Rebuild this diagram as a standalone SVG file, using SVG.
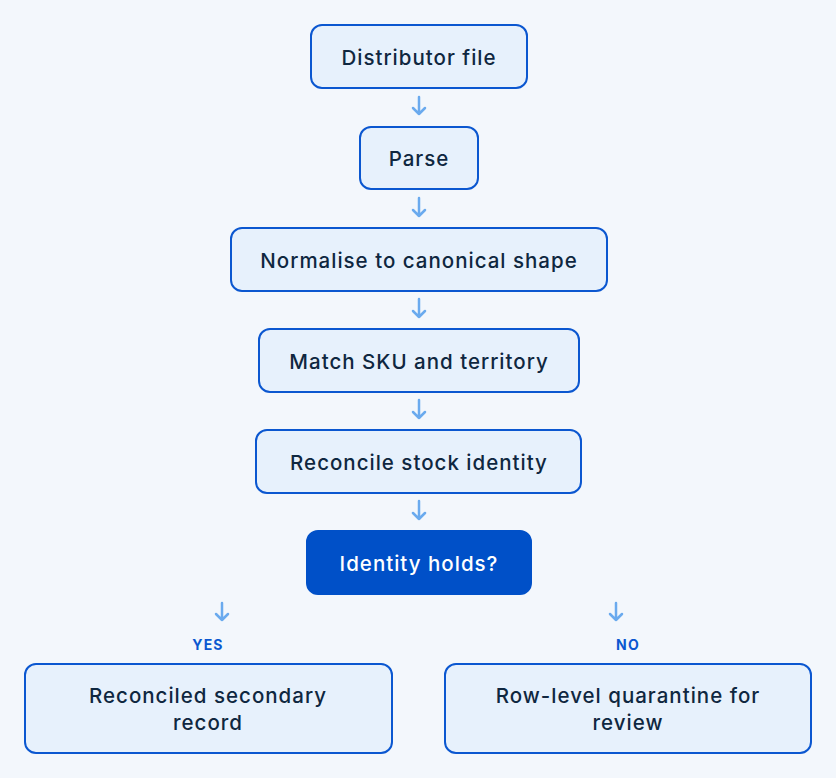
<svg xmlns="http://www.w3.org/2000/svg" width="836" height="778" viewBox="0 0 836 778">
<defs>
<style>
.bg{fill:#f3f7fc}
.n rect{fill:#e7f1fc;stroke:#0b57d0;stroke-width:2}
.n text{font-family:Inter,"Noto Sans",sans-serif;font-size:20.5px;font-weight:500;letter-spacing:1px;fill:#0f2740;text-anchor:middle;dominant-baseline:central}
.d rect{fill:#0050c8;stroke:#0050c8;stroke-width:2}
.d text{font-family:Inter,"Noto Sans",sans-serif;font-size:20.5px;letter-spacing:1px;font-weight:500;fill:#ffffff;text-anchor:middle;dominant-baseline:central}
.c path{fill:none;stroke:#6aaaee;stroke-width:2.5;stroke-linecap:round;stroke-linejoin:round}
.lbl{font-family:Inter,"Noto Sans",sans-serif;font-size:14px;font-weight:700;fill:#0b57d0;text-anchor:middle;letter-spacing:1.2px}
</style>
</defs>
<rect class="bg" x="0" y="0" width="836" height="778"/>
<g id="connectors" class="c">
<path d="M419 97V114M413 108L419 114L425 108"/>
<path d="M419 198V216M413 210L419 216L425 210"/>
<path d="M419 299V317M413 311L419 317L425 311"/>
<path d="M419 400V418M413 412L419 418L425 412"/>
<path d="M419 501V519M413 513L419 519L425 513"/>
<path d="M222 603V620M216 614L222 620L228 614"/>
<path d="M616 603V620M610 614L616 620L622 614"/>
</g>
<text class="lbl" x="208" y="650">YES</text>
<text class="lbl" x="628" y="650">NO</text>
<g id="n1" class="n"><rect x="311" y="25" width="216" height="63" rx="11"/><text x="419" y="57">Distributor file</text></g>
<g id="n2" class="n"><rect x="360" y="127" width="118" height="62" rx="11"/><text x="419" y="158">Parse</text></g>
<g id="n3" class="n"><rect x="231" y="228" width="376" height="63" rx="11"/><text x="419" y="260">Normalise to canonical shape</text></g>
<g id="n4" class="n"><rect x="259" y="329" width="320" height="63" rx="11"/><text x="419" y="361">Match SKU and territory</text></g>
<g id="n5" class="n"><rect x="256" y="430" width="325" height="63" rx="11"/><text x="419" y="462">Reconcile stock identity</text></g>
<g id="n6" class="d"><rect x="307" y="531" width="224" height="63" rx="11"/><text x="419" y="563">Identity holds?</text></g>
<g id="n7" class="n"><rect x="25" y="664" width="367" height="89" rx="11"/><text x="208" y="695">Reconciled secondary</text><text x="208" y="722">record</text></g>
<g id="n8" class="n"><rect x="445" y="664" width="366" height="89" rx="11"/><text x="628" y="695">Row-level quarantine for</text><text x="628" y="722">review</text></g>
</svg>
